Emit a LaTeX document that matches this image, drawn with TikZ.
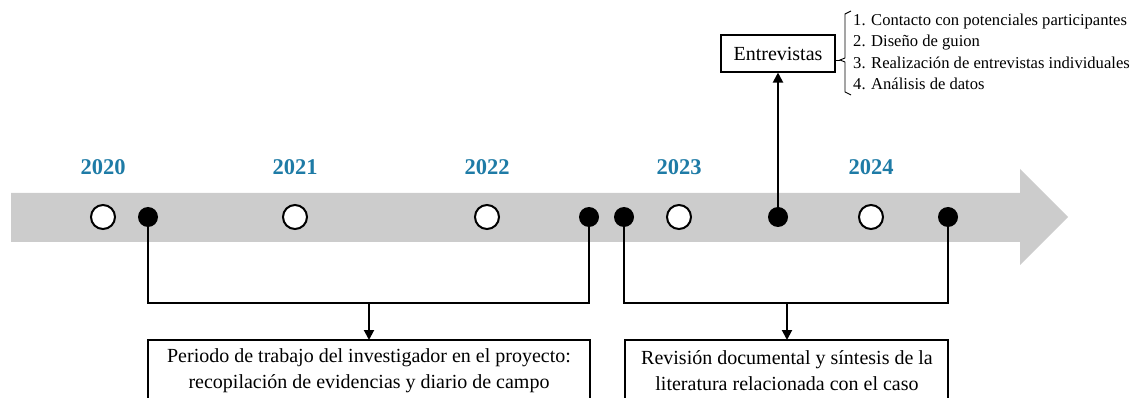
\documentclass[tikz,border=0pt]{standalone}
\usepackage{fontspec}
\setmainfont{Liberation Serif}
\usetikzlibrary{arrows.meta}
\definecolor{yearblue}{HTML}{1E7BA6}
\definecolor{bandgray}{HTML}{CCCCCC}
\begin{document}
\begin{tikzpicture}[x=1pt,y=-1pt,
  hollow/.style={circle,draw=black,line width=2pt,fill=white,minimum size=24pt,inner sep=0pt},
  solid/.style={circle,fill=black,minimum size=20pt,inner sep=0pt},
  year/.style={text=yearblue,font=\bfseries\fontsize{22.5}{24}\selectfont},
  conn/.style={line width=2pt,draw=black},
  arr/.style={conn,-{Triangle[length=10pt,width=10pt]}},
  boxtext/.style={align=center,font=\fontsize{20}{26}\selectfont}]
\useasboundingbox (0,0) rectangle (1133,398);
% band arrow
\fill[bandgray] (11,193) -- (1020,193) -- (1020,169) -- (1068,217) -- (1020,265) -- (1020,242) -- (11,242) -- cycle;
% years
\foreach \x/\y in {103/2020,295/2021,487/2022,679/2023,871/2024}
  \node[year] (y\y) at (\x,167) {\y};
% markers
\node[hollow] (w1) at (103,217) {};
\node[hollow] (w2) at (295,217) {};
\node[hollow] (w3) at (487,217) {};
\node[hollow] (w4) at (679,217) {};
\node[hollow] (w5) at (871,217) {};
\coordinate (b1) at (148,217);
\coordinate (b2) at (589,217);
\coordinate (b3) at (624,217);
\coordinate (b4) at (778,217);
\coordinate (b5) at (948,217);
% bottom boxes
\draw[draw=black,line width=1.1pt,fill=white] (148,340) rectangle (590,420);
\node[boxtext] (p1) at (369,371) {Periodo de trabajo del investigador en el proyecto:\\recopilación de evidencias y diario de campo};
\draw[draw=black,line width=1.1pt,fill=white] (625,340) rectangle (948,420);
\node[boxtext] (p2) at (787,371) {Revisión documental y síntesis de la\\literatura relacionada con el caso};
\coordinate (t1) at (369,340);
\coordinate (t2) at (787,340);
\coordinate (j1) at (369,303);
\coordinate (j2) at (787,303);
\draw[conn] (b1) |- (j1) -| (b2);
\draw[arr] (j1) -- (t1);
\draw[conn] (b3) |- (j2) -| (b5);
\draw[arr] (j2) -- (t2);
% Entrevistas
\node[draw=black,line width=1.1pt,minimum width=114pt,minimum height=37pt,inner sep=0pt,font=\fontsize{20}{22}\selectfont] (ent) at (778,53.5) {Entrevistas};
\draw[arr] (b4) -- (ent.south);
% solid markers on top
\foreach \b in {b1,b2,b3,b4,b5}
  \node[solid] (s\b) at (\b) {};
% bracket
\coordinate (tick) at (840,60);
\draw[line width=0.9pt] (851,11) -- (845,14) -- (845,58) -- (tick) -- (845,62) -- (845,92) -- (851,95);
\draw[line width=0.9pt] (ent.east |- tick) -- (tick);
\node[anchor=west,align=left,inner sep=0pt,font=\fontsize{16.6}{21.3}\selectfont] (list) at (853,52) {1. Contacto con potenciales participantes\\2. Diseño de guion\\3. Realización de entrevistas individuales\\4. Análisis de datos};
\end{tikzpicture}
\end{document}
